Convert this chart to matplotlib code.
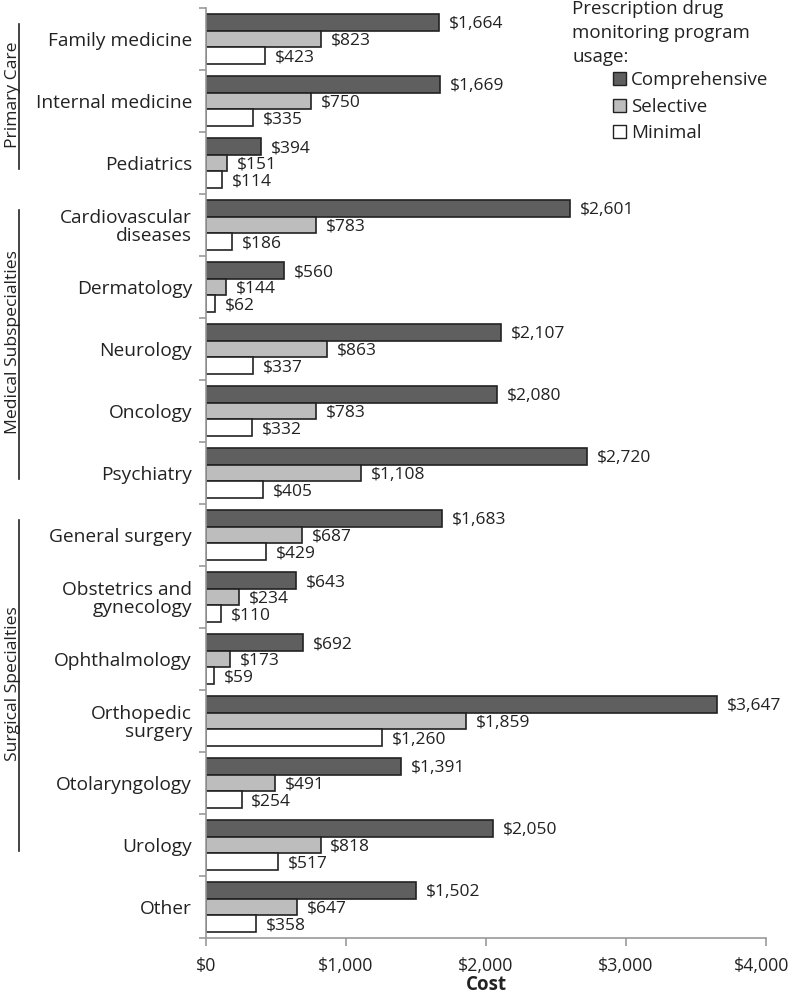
import matplotlib
matplotlib.use("Agg")
import matplotlib.pyplot as plt
from matplotlib.patches import Patch
from matplotlib.lines import Line2D
import matplotlib.transforms as mtransforms
import numpy as np

plt.rcParams['font.family'] = ['Open Sans', 'DejaVu Sans']

categories = ["Family medicine", "Internal medicine", "Pediatrics",
              "Cardiovascular\ndiseases", "Dermatology", "Neurology", "Oncology", "Psychiatry",
              "General surgery", "Obstetrics and\ngynecology", "Ophthalmology", "Orthopedic\nsurgery",
              "Otolaryngology", "Urology", "Other"]
comprehensive = [1664, 1669, 394, 2601, 560, 2107, 2080, 2720, 1683, 643, 692, 3647, 1391, 2050, 1502]
selective = [823, 750, 151, 783, 144, 863, 783, 1108, 687, 234, 173, 1859, 491, 818, 647]
minimal = [423, 335, 114, 186, 62, 337, 332, 405, 429, 110, 59, 1260, 254, 517, 358]
series_names = ["Comprehensive", "Selective", "Minimal"]
series_colors = ["#5f5f5f", "#bdbdbd", "#ffffff"]
groups = [("Primary Care", 0, 2), ("Medical Subspecialties", 3, 7), ("Surgical Specialties", 8, 13)]
xticks = [0, 1000, 2000, 3000, 4000]

TXT = "#222222"
fig = plt.figure(figsize=(7.92, 9.94), dpi=100)
ax = fig.add_axes([0.2601, 0.0563, 0.9672 - 0.2601, 0.99195 - 0.0563])

n = len(categories)
y = np.arange(n)
h = 0.27
offsets = [-h, 0, h]
for vals, name, col, off in zip([comprehensive, selective, minimal], series_names, series_colors, offsets):
    ax.barh(y + off, vals, height=h, color=col, edgecolor="#222222", linewidth=1.2, label=name)
    for yi, v in zip(y, vals):
        ax.text(v + 70, yi + off + 0.03, f"${v:,}", va="center", ha="left", fontsize=12.5, color=TXT)

ax.set_ylim(n - 0.5, -0.5)
ax.set_xlim(0, 4000)
ax.set_yticks(y)
ax.set_yticklabels(categories, fontsize=13.8, color=TXT, linespacing=1.0)
ax.set_yticks(np.arange(-0.5, n, 1.0), minor=True)
ax.tick_params(axis="y", which="major", length=0, pad=10)
ax.tick_params(axis="y", which="minor", length=5, color="#999999", width=1.2, direction="out")
ax.set_xticks(xticks)
ax.set_xticklabels([f"${t:,}" for t in xticks], fontsize=12.8, color=TXT)
ax.tick_params(axis="x", length=6, color="#999999", width=1.2, pad=8)
# nudge last tick label so it stays within the figure
last = ax.get_xticklabels()[-1]
last.set_transform(last.get_transform() + mtransforms.ScaledTranslation(-4 / 100, 0, fig.dpi_scale_trans))
ax.set_xlabel("Cost", fontsize=13.5, fontweight="bold", labelpad=0, color=TXT)
for s in ["top", "right"]:
    ax.spines[s].set_visible(False)
for s in ["left", "bottom"]:
    ax.spines[s].set_color("#999999")
    ax.spines[s].set_linewidth(1.2)

# group labels
trans = ax.get_yaxis_transform()
for name, i0, i1 in groups:
    top = i0 - 0.25
    bot = i1 + 0.1
    ax.add_line(Line2D([-0.334, -0.334], [top, bot], transform=trans, color="#222222",
                       linewidth=1.2, clip_on=False))
    ax.text(-0.331, (top + bot) / 2 - 0.03, name, transform=trans, rotation=90, ha="right",
            va="center", fontsize=12.6, color=TXT)

# legend
fig.text(572 / 792, 1 - 0 / 994, "Prescription drug\nmonitoring program\nusage:", ha="left", va="top",
         fontsize=13.5, color=TXT, linespacing=1.42)
handles = [Patch(facecolor=c, edgecolor="#222222", label=nm) for c, nm in zip(series_colors, series_names)]
leg = fig.legend(handles=handles, loc="upper left", bbox_to_anchor=(613 / 792, 1 - 71 / 994), frameon=False,
                 fontsize=13.5, handlelength=0.7, handleheight=0.7, handletextpad=0.25, labelspacing=0.46,
                 borderaxespad=0, borderpad=0)
for t in leg.get_texts():
    t.set_color(TXT)

fig.savefig("out.png", dpi=100)
